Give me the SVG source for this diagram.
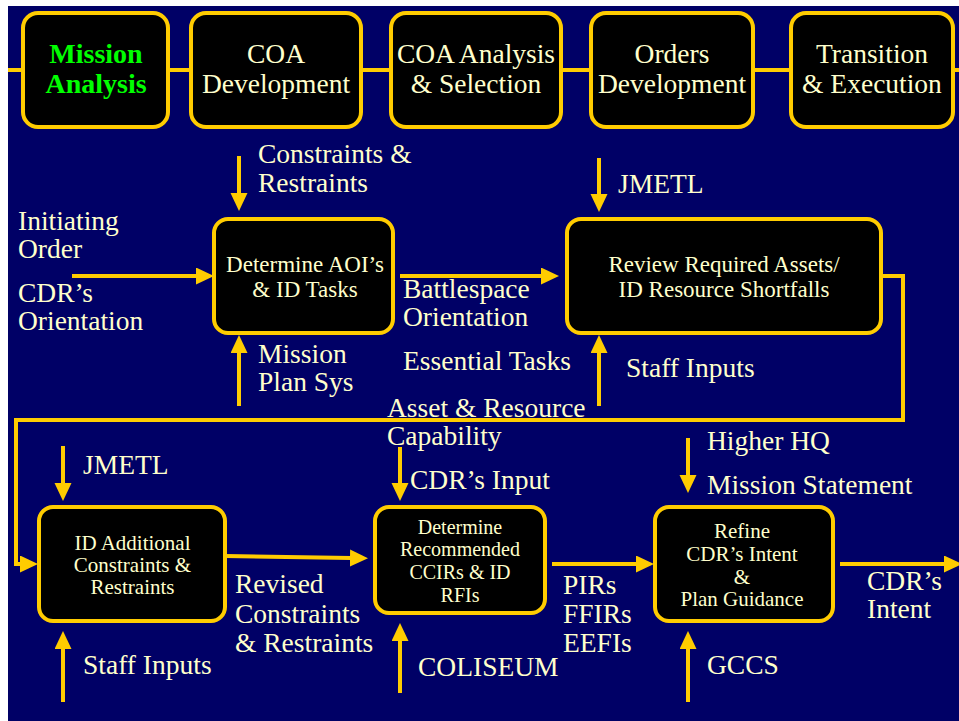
<svg xmlns="http://www.w3.org/2000/svg" width="959" height="721" viewBox="0 0 959 721">
  <defs>
    <marker id="head" markerUnits="userSpaceOnUse" markerWidth="18" markerHeight="18" refX="1" refY="8.5" orient="auto">
      <path d="M0,0 L18,8.5 L0,17 z" fill="#ffcc00"/>
    </marker>
    <style>
      text { font-family: 'Liberation Serif', 'Times New Roman', serif; fill: #ffffcc; }
      .box { fill: #000000; stroke: #ffcc00; stroke-width: 4; }
      .phase { font-size: 27.5px; text-anchor: middle; }
      .active { font-size: 28px; font-weight: bold; fill: #00ff00; text-anchor: middle; }
      .lbl { font-size: 27.5px; }
      .n23 { font-size: 23px; text-anchor: middle; }
      .n21 { font-size: 21px; text-anchor: middle; }
      .n20 { font-size: 20px; text-anchor: middle; }
      .wire { fill: none; stroke: #ffcc00; stroke-width: 4; }
      .arr { marker-end: url(#head); }
    </style>
  </defs>

  <!-- page background -->
  <rect x="0" y="0" width="959" height="721" fill="#ffffff"/>
  <rect x="8" y="6" width="951" height="715" fill="#000066"/>

  <!-- phase timeline bar -->
  <line x1="8" y1="70" x2="959" y2="70" class="wire"/>

  <!-- planning phases -->
  <g id="phase-mission-analysis">
    <rect class="box" x="23" y="13" width="145" height="114" rx="15"/>
    <text class="active" x="96" y="63">Mission</text>
    <text class="active" x="96" y="93">Analysis</text>
  </g>
  <g id="phase-coa-development">
    <rect class="box" x="191" y="13" width="170" height="114" rx="15"/>
    <text class="phase" x="276" y="63">COA</text>
    <text class="phase" x="276" y="93">Development</text>
  </g>
  <g id="phase-coa-analysis">
    <rect class="box" x="391" y="13" width="170" height="114" rx="15"/>
    <text class="phase" x="476" y="63">COA Analysis</text>
    <text class="phase" x="476" y="93">&amp; Selection</text>
  </g>
  <g id="phase-orders-development">
    <rect class="box" x="591" y="13" width="162" height="114" rx="15"/>
    <text class="phase" x="672" y="63">Orders</text>
    <text class="phase" x="672" y="93">Development</text>
  </g>
  <g id="phase-transition">
    <rect class="box" x="791" y="13" width="162" height="114" rx="15"/>
    <text class="phase" x="872" y="63">Transition</text>
    <text class="phase" x="872" y="93">&amp; Execution</text>
  </g>

  <!-- connectors -->
  <g id="connectors">
    <path class="wire arr" d="M72,276 H197"/>
    <path class="wire arr" d="M239,156 V194"/>
    <path class="wire arr" d="M239,406 V352"/>
    <path class="wire arr" d="M400,276 H542"/>
    <path class="wire arr" d="M599,158 V195"/>
    <path class="wire arr" d="M599,406 V352"/>
    <path class="wire arr" d="M879,276 H903 V420 H16 V564 H21"/>
    <path class="wire arr" d="M63,446 V484"/>
    <path class="wire arr" d="M63,702 V648"/>
    <path class="wire arr" d="M225,556 L351,558"/>
    <path class="wire arr" d="M400,447 V484"/>
    <path class="wire arr" d="M400,693 V640"/>
    <path class="wire arr" d="M552,564 H637"/>
    <path class="wire arr" d="M688,438 V476"/>
    <path class="wire arr" d="M688,702 V648"/>
    <path class="wire arr" d="M840,564 H945"/>
  </g>

  <!-- process steps -->
  <g id="node-determine-aoi">
    <rect class="box" x="214" y="219" width="179" height="114" rx="14"/>
    <text class="n23" x="305" y="272">Determine AOI’s</text>
    <text class="n23" x="305" y="297">&amp; ID Tasks</text>
  </g>
  <g id="node-review-assets">
    <rect class="box" x="567" y="219" width="314" height="114" rx="14"/>
    <text class="n23" x="724" y="272">Review Required Assets/</text>
    <text class="n23" x="724" y="297">ID Resource Shortfalls</text>
  </g>
  <g id="node-id-constraints">
    <rect class="box" x="39" y="507" width="186" height="114" rx="14"/>
    <text class="n21" x="132.5" y="550">ID Additional</text>
    <text class="n21" x="132.5" y="572">Constraints &amp;</text>
    <text class="n21" x="132.5" y="594">Restraints</text>
  </g>
  <g id="node-ccirs">
    <rect class="box" x="375" y="507" width="170" height="106" rx="14"/>
    <text class="n20" x="460" y="534">Determine</text>
    <text class="n20" x="460" y="556">Recommended</text>
    <text class="n20" x="460" y="579">CCIRs &amp; ID</text>
    <text class="n20" x="460" y="602">RFIs</text>
  </g>
  <g id="node-refine-intent">
    <rect class="box" x="655" y="507" width="178" height="114" rx="14"/>
    <text class="n21" x="742" y="538">Refine</text>
    <text class="n21" x="742" y="561">CDR’s Intent</text>
    <text class="n21" x="742" y="584">&amp;</text>
    <text class="n21" x="742" y="606">Plan Guidance</text>
  </g>

  <!-- inputs and outputs -->
  <g id="labels">
    <text class="lbl" x="18" y="230">Initiating</text>
    <text class="lbl" x="18" y="258">Order</text>
    <text class="lbl" x="18" y="302">CDR’s</text>
    <text class="lbl" x="18" y="330">Orientation</text>
    <text class="lbl" x="258" y="163">Constraints &amp;</text>
    <text class="lbl" x="258" y="192">Restraints</text>
    <text class="lbl" x="258" y="363">Mission</text>
    <text class="lbl" x="258" y="391">Plan Sys</text>
    <text class="lbl" x="403" y="298">Battlespace</text>
    <text class="lbl" x="403" y="326">Orientation</text>
    <text class="lbl" x="403" y="370">Essential Tasks</text>
    <text class="lbl" x="387" y="417">Asset &amp; Resource</text>
    <text class="lbl" x="387" y="445">Capability</text>
    <text class="lbl" x="410" y="489">CDR’s Input</text>
    <text class="lbl" x="618" y="193">JMETL</text>
    <text class="lbl" x="626" y="377">Staff Inputs</text>
    <text class="lbl" x="83" y="474">JMETL</text>
    <text class="lbl" x="83" y="674">Staff Inputs</text>
    <text class="lbl" x="235" y="593">Revised</text>
    <text class="lbl" x="235" y="623">Constraints</text>
    <text class="lbl" x="235" y="652">&amp; Restraints</text>
    <text class="lbl" x="418" y="676">COLISEUM</text>
    <text class="lbl" x="563" y="594">PIRs</text>
    <text class="lbl" x="563" y="623">FFIRs</text>
    <text class="lbl" x="563" y="652">EEFIs</text>
    <text class="lbl" x="707" y="450">Higher HQ</text>
    <text class="lbl" x="707" y="494">Mission Statement</text>
    <text class="lbl" x="707" y="674">GCCS</text>
    <text class="lbl" x="867" y="590">CDR’s</text>
    <text class="lbl" x="867" y="618">Intent</text>
  </g>
</svg>
